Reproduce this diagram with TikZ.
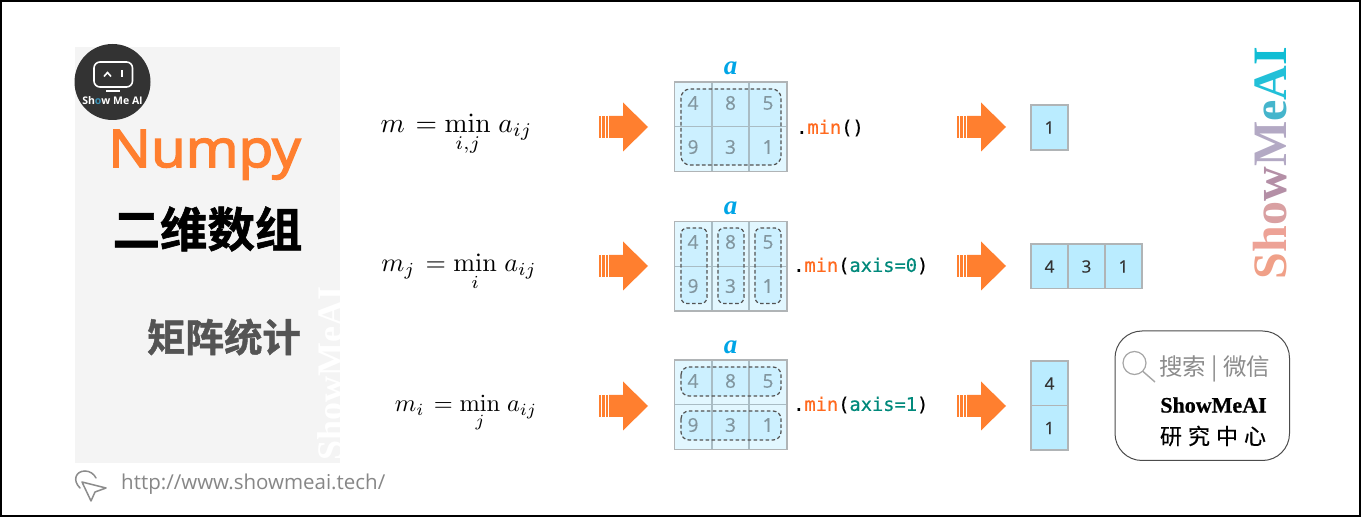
\documentclass[tikz,border=0pt]{standalone}
\usepackage[no-math]{fontspec}
\setmainfont{Liberation Sans}
\newfontfamily\cjk{Noto Sans CJK SC}
\newfontfamily\cjkmed[FakeBold=0.5]{Noto Sans CJK SC}
\newfontfamily\cjkheavy[FakeBold=1.2]{Noto Sans CJK SC Bold}
\newfontfamily\numf[FakeBold=0.4]{Open Sans}
\newfontfamily\resf[FakeBold=0.4]{Open Sans}
\newfontfamily\numpyf[FakeBold=3,FakeStretch=1.09]{Open Sans}
\newfontfamily\monof[FakeBold=0.5]{DejaVu Sans Mono}
\newfontfamily\serifb{Liberation Serif}
\newfontfamily\brandf[FakeBold=0.8]{Liberation Serif}
\newfontfamily\urlf{Open Sans}
\newfontfamily\logof{Open Sans}
\usetikzlibrary{calc}
\definecolor{panelgray}{HTML}{F4F4F4}
\definecolor{orangeA}{HTML}{FF7F2F}
\definecolor{minorange}{HTML}{FF6A1F}
\definecolor{axisteal}{HTML}{00897B}
\definecolor{cellout}{HTML}{E2F7FF}
\definecolor{cellin}{HTML}{CCF0FF}
\definecolor{resfill}{HTML}{BAECFF}
\definecolor{gridline}{HTML}{A9BCC4}
\definecolor{gridout}{HTML}{B0B4B6}
\definecolor{numgray}{HTML}{82969F}
\definecolor{ablue}{HTML}{00A5E6}
\definecolor{wmA}{HTML}{F0A088}
\definecolor{wmB}{HTML}{EDA296}
\definecolor{wmC}{HTML}{D9A0A2}
\definecolor{wmD}{HTML}{B48FA6}
\definecolor{wmE}{HTML}{B3A9C4}
\definecolor{wmF}{HTML}{45B5CC}
\definecolor{wmG}{HTML}{22C0D8}
\definecolor{wmH}{HTML}{10BDD4}
\tikzset{
  dashbox/.style={draw=black!68,line width=1.2pt,dash pattern=on 3.6pt off 2.4pt,rounded corners=#1},
  dashbox/.default=9pt,
  gridlines/.style={draw=gridline,line width=1.2pt},
  gridframe/.style={draw=gridout,line width=1.6pt},
  numcell/.style={inner sep=0pt,text=numgray,font=\numf\fontsize{19}{19}\selectfont},
  rescell/.style={draw=gridout,fill=resfill,line width=1.5pt,inner sep=0pt,text=black!80,font=\resf\fontsize{17}{17}\selectfont},
  alabel/.style={inner sep=0pt,text=ablue,font=\serifb\bfseries\itshape\fontsize{27}{27}\selectfont},
  codetext/.style={inner sep=0pt,anchor=west,font=\monof\fontsize{18.7}{18.7}\selectfont},
  formula/.style={inner sep=0pt,scale=#1,transform shape,anchor=base},
  blockarrow/.pic={
    \fill[orangeA] (-49,-11) rectangle (-46.8,11);
    \fill[orangeA] (-45.6,-11) rectangle (-43.4,11);
    \fill[orangeA] (-42.2,-11) rectangle (-40,11);
    \fill[orangeA] (-39,-11) -- (-25,-11) -- (-25,-24.5) -- (0,0) -- (-25,24.5) -- (-25,11) -- (-39,11) -- cycle;
  }
}
\newcommand{\codemin}[1]{{\textcolor{black}{.}\textcolor{minorange}{min}\textcolor{black}{(}#1\textcolor{black}{)}}}
\newcommand{\axisarg}[1]{\textcolor{axisteal}{axis=#1}}
\begin{document}
\begin{tikzpicture}[x=1pt,y=-1pt]
\useasboundingbox (0,0) rectangle (1361,518);
\fill[white] (0,0) rectangle (1361,518);
\draw[black,line width=2pt] (1,1) rectangle (1359.5,516);

% left panel
\fill[panelgray] (75,47) rectangle (340,463);
\begin{scope}
  \clip (75,47) rectangle (340,463);
  \node[rotate=90,inner sep=0pt,text=white,font=\serifb\bfseries\fontsize{36}{36}\selectfont] (wmleft) at (330,373.5) {ShowMeAI};
\end{scope}
\fill[black!80] (112.5,82) circle (38);
\draw[white,line width=1.6pt,rounded corners=6pt] (94,62) rectangle (132.5,87);
\draw[white,line width=1.6pt] (104,76.5) -- (107.5,72.5) -- (111,76.5);
\draw[white,line width=2pt] (122,70.5) -- (122,77.5);
\draw[white,line width=1.8pt] (106,91) -- (120,91);
\node[inner sep=0pt,text=white,font=\logof\bfseries\fontsize{10.5}{10.5}\selectfont] (logotext) at (112.5,101) {Sh\textcolor{cyan!70!black}{o}w Me AI};
\node[inner sep=0pt,anchor=base,text=orangeA,font=\numpyf\fontsize{52}{52}\selectfont] (title) at (204.5,167) {Numpy};
\node[inner sep=0pt,text=black,font=\cjkheavy\fontsize{47.5}{47.5}\selectfont] (sub) at (207.5,229) {二维数组};
\node[inner sep=0pt,text=black!67,font=\cjkheavy\fontsize{38.5}{38.5}\selectfont] (sec) at (224,337) {矩阵统计};

% link
\draw[black!45,line width=1.5pt,line join=round] (82,482) -- (106,488) -- (95,492) -- (91,501) -- cycle;
\draw[black!45,line width=1.5pt,line cap=round] (80,488) .. controls (72,480) and (76,471) .. (85,471) .. controls (90,471) and (94,474) .. (96,478);
\node[inner sep=0pt,anchor=base west,text=black!47,font=\urlf\fontsize{20.5}{20.5}\selectfont] (url) at (121,490) {http://www.showmeai.tech/};

% formulas
\node[formula=2.76] (f1) at (456.5,132.5) {$\displaystyle m\mkern2mu=\min_{i,j}\mkern2mu a_{ij}$};
\node[formula=2.62] (f2) at (459,272) {$\displaystyle m_j\mkern2mu=\min_{i}\mkern2mu a_{ij}$};
\node[formula=2.44] (f3) at (466,411.5) {$\displaystyle m_i\mkern2mu=\min_{j}\mkern2mu a_{ij}$};

% block arrows
\foreach \yy/\nn in {127/1,266/2,406/3}{
  \pic at (648,\yy) {blockarrow};
  \pic at (1006,\yy) {blockarrow};
}

% array backgrounds
\foreach \tp in {82,221.5,360}{
  \fill[cellout] (674.5,\tp) rectangle (787,\tp+89.5);
}
% highlighted groups
\fill[cellin,rounded corners=9pt] (681,89) rectangle (781,165);
\foreach \xa in {681,718,755}{
  \fill[cellin,rounded corners=6pt] (\xa,228) rectangle (\xa+26,303.5);
}
\fill[cellin,rounded corners=8pt] (681,367) rectangle (781,396);
\fill[cellin,rounded corners=8pt] (681,411) rectangle (781,440);
% grid lines
\foreach \tp in {82,221.5,360}{
  \draw[gridlines] (712,\tp) -- (712,\tp+89.5) (749,\tp) -- (749,\tp+89.5);
  \draw[gridlines] (674.5,\tp+44.75) -- (787,\tp+44.75);
  \draw[gridframe] (674.5,\tp) rectangle (787,\tp+89.5);
}
% dashed groups
\draw[dashbox] (681,89) rectangle (781,165);
\foreach \xa in {681,718,755}{
  \draw[dashbox=6pt] (\xa,228) rectangle (\xa+26,303.5);
}
\draw[dashbox=8pt] (681,367) rectangle (781,396);
\draw[dashbox=8pt] (681,411) rectangle (781,440);
% numbers
\foreach \ya/\yb/\rr in {103/147/A,242/286/B,381/425/C}{
  \node[numcell] (n4\rr) at (693,\ya) {4};
  \node[numcell] (n8\rr) at (730.5,\ya) {8};
  \node[numcell] (n5\rr) at (768,\ya) {5};
  \node[numcell] (n9\rr) at (693,\yb) {9};
  \node[numcell] (n3\rr) at (730.5,\yb) {3};
  \node[numcell] (n1\rr) at (768,\yb) {1};
}
\node[alabel] (a1) at (730.5,68.5) {a};
\node[alabel] (a2) at (730.5,208.5) {a};
\node[alabel] (a3) at (730.5,347.5) {a};

% code
\node[codetext] (c1) at (796,128) {\codemin{}};
\node[codetext] (c2) at (793,266) {\codemin{\axisarg{0}}};
\node[codetext] (c3) at (793,405) {\codemin{\axisarg{1}}};

% results
\node[rescell,minimum width=37pt,minimum height=45pt] (r1) at (1049.5,127.5) {1};
\node[rescell,minimum width=37pt,minimum height=44.5pt] (r2a) at (1049.5,266.5) {4};
\node[rescell,minimum width=37pt,minimum height=44.5pt] (r2b) at (1086.5,266.5) {3};
\node[rescell,minimum width=37pt,minimum height=44.5pt] (r2c) at (1123.5,266.5) {1};
\node[rescell,minimum width=37pt,minimum height=44.5pt] (r3a) at (1049.5,383.5) {4};
\node[rescell,minimum width=37pt,minimum height=44.5pt] (r3b) at (1049.5,428) {1};

% gradient watermark
\node[rotate=90,inner sep=0pt,font=\serifb\bfseries\fontsize{48}{48}\selectfont] (wmright) at (1270,163) {\textcolor{wmA}{S}\textcolor{wmB}{h}\textcolor{wmC}{o}\textcolor{wmD}{w}\textcolor{wmE}{M}\textcolor{wmF}{e}\textcolor{wmG}{A}\textcolor{wmH}{I}};

% wechat box
\draw[black!70,line width=1pt,rounded corners=27pt] (1115,331) rectangle (1289.5,460.5);
\draw[black!35,line width=1.2pt] (1134.5,363) circle (11.5);
\draw[black!35,line width=1.4pt] (1143,371.5) -- (1155,382);
\node[inner sep=0pt,anchor=west,text=black!45,font=\cjk\fontsize{23.5}{23.5}\selectfont] (search) at (1159,369) {搜索 | 微信};
\node[inner sep=0pt,text=black,font=\brandf\bfseries\fontsize{22}{22}\selectfont] (brand) at (1213.5,405) {ShowMeAI};
\node[inner sep=0pt,text=black,font=\cjkmed\fontsize{22}{22}\selectfont] (center) at (1213,436) {研\hspace{6pt}究\hspace{6pt}中\hspace{6pt}心};
\end{tikzpicture}
\end{document}
